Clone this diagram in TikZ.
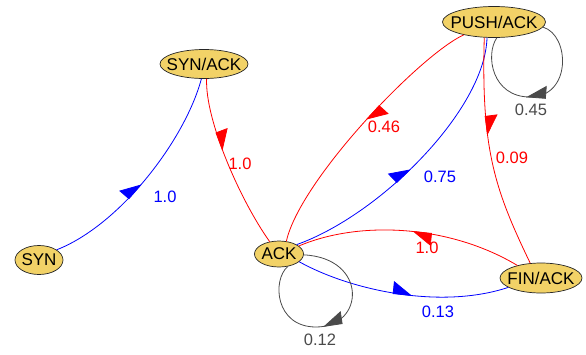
\documentclass[tikz,border=0pt]{standalone}
\usepackage{fontspec}
\setmainfont{Liberation Sans}
\usetikzlibrary{arrows.meta,shapes.geometric,decorations.markings}
\definecolor{Gold}{HTML}{F2D267}
\definecolor{Fwd}{HTML}{0000FF}
\definecolor{Bwd}{HTML}{FF0000}
\definecolor{Loop}{HTML}{4A4A4A}

\begin{document}
\begin{tikzpicture}[
  x=1pt, y=-1pt,
  state/.style={ellipse,draw=black!85,fill=Gold,line width=0.7pt,inner sep=0pt,minimum height=29pt,font=\fontsize{17}{17}\selectfont},
  lbl/.style={inner sep=0pt,font=\fontsize{16.5}{16.5}\selectfont},
  trans/.style={line width=0.8pt},
  midtip/.style={postaction={decorate,decoration={markings,
      mark=at position #1 with {\arrow{Triangle[harpoon,length=19pt,width=25pt]}}}}},
  looptip/.style={postaction={decorate,decoration={markings,
      mark=at position #1 with {\arrow{Triangle[harpoon,swap,length=19pt,width=25pt]}}}}}
]
\useasboundingbox (0,0) rectangle (586,354);

% states
\node[state,minimum width=48pt] (syn) at (39,260) {\makebox[0pt]{SYN}};
\node[state,minimum width=88pt] (synack) at (204,64) {\makebox[0pt]{SYN/ACK}};
\node[state,minimum width=49pt,minimum height=26pt] (ack) at (279,254) {\makebox[0pt]{ACK}};
\node[state,minimum width=103pt,minimum height=31pt] (pushack) at (494,22) {\makebox[0pt]{PUSH/ACK}};
\node[state,minimum width=82pt,minimum height=30pt] (finack) at (541,278) {\makebox[0pt]{FIN/ACK}};

% transitions
\draw[trans,Fwd,midtip=0.47] (syn.30) .. controls (120,225) and (185,140) .. (synack.-100);
\draw[trans,Bwd,midtip=0.42] (synack.-80) .. controls (205,120) and (240,200) .. (ack.127);
\draw[trans,Bwd,midtip=0.47] (pushack.-157) .. controls (420,55) and (300,180) .. (ack.60);
\draw[trans,Fwd,midtip=0.47] (ack.28) .. controls (380,215) and (485,110) .. (pushack.-114);
\draw[trans,Bwd,midtip=0.42] (pushack.-122) .. controls (481,150) and (495,190) .. (finack.126);
\draw[trans,Bwd,midtip=0.49] (finack.152) .. controls (450,225) and (360,220) .. (ack.22);
\draw[trans,Fwd,midtip=0.55] (ack.-21) .. controls (350,290) and (440,310) .. (finack.-164);

% self loops
\draw[trans,Loop,looptip=0.56] (pushack.-6) .. controls (570,35) and (572,97) .. (530,97)
  .. controls (492,97) and (485,55) .. (pushack.-80);
\draw[trans,Loop,looptip=0.56] (ack.-2) .. controls (368,258) and (365,327) .. (316,327)
  .. controls (275,327) and (272,280) .. (ack.-55);

% probabilities
\node[lbl,text=Fwd] (p-syn) at (165,197) {1.0};
\node[lbl,text=Bwd] (p-synack) at (240,164) {1.0};
\node[lbl,text=Bwd] (p-push-ack) at (384,127) {0.46};
\node[lbl,text=Fwd] (p-ack-push) at (440,177) {0.75};
\node[lbl,text=Bwd] (p-push-fin) at (512,158) {0.09};
\node[lbl,text=Loop] (p-push) at (531,110) {0.45};
\node[lbl,text=Bwd] (p-fin-ack) at (427,248) {1.0};
\node[lbl,text=Fwd] (p-ack-fin) at (438,312) {0.13};
\node[lbl,text=Loop] (p-ack) at (320,340) {0.12};
\end{tikzpicture}
\end{document}
